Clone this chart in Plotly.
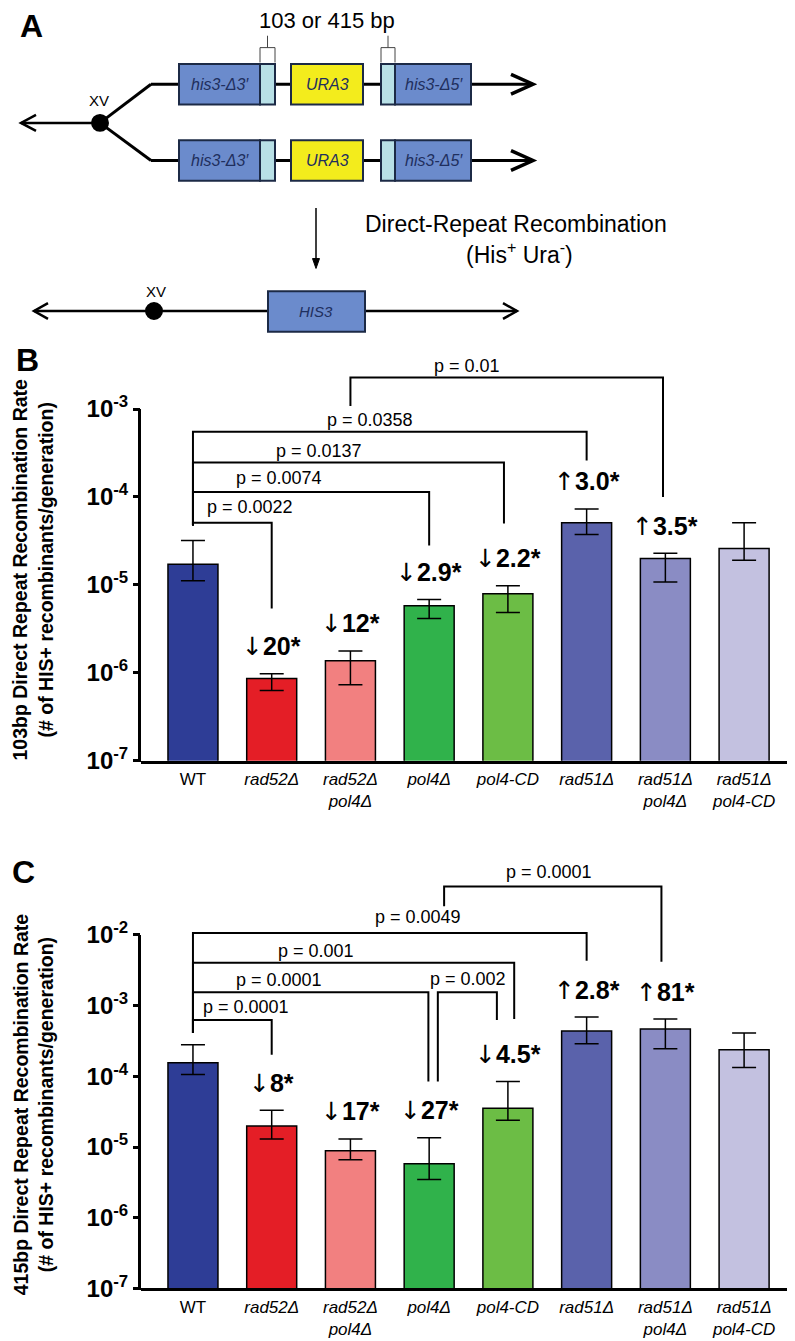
'''Direct-repeat recombination: construct (A), 103 bp (B) and 415 bp (C) rates'''

import math

import plotly.graph_objects as go

# ---- data -------------------------------------------------------------

strains = ['WT', 'rad52Δ', 'rad52Δ pol4Δ', 'pol4Δ', 'pol4-CD',
           'rad51Δ', 'rad51Δ pol4Δ', 'rad51Δ pol4-CD']
tick_labels = ['WT', '<i>rad52Δ</i>', '<i>rad52Δ<br>pol4Δ</i>', '<i>pol4Δ</i>',
               '<i>pol4-CD</i>', '<i>rad51Δ</i>', '<i>rad51Δ<br>pol4Δ</i>',
               '<i>rad51Δ<br>pol4-CD</i>']
bar_colors = ['#2e3d96', '#e41e26', '#f28080', '#30b24b',
              '#6cbd45', '#5a62ab', '#8a8cc4', '#c3c1e0']

# 103 bp repeats: rate and upper/lower bounds of the error bar
rate_103 = [1.72e-5, 8.6e-7, 1.37e-6, 5.8e-6, 7.9e-6, 5.1e-5, 2.0e-5, 2.6e-5]
upper_103 = [3.2e-5, 9.75e-7, 1.77e-6, 6.8e-6, 9.75e-6, 7.3e-5, 2.29e-5, 5.1e-5]
lower_103 = [1.11e-5, 6.3e-7, 7.3e-7, 4.15e-6, 4.85e-6, 3.74e-5, 1.08e-5, 1.91e-5]
fold_103 = ['', '↓20*', '↓12*', '↓2.9*', '↓2.2*', '↑3.0*', '↑3.5*', '']

# 415 bp repeats
rate_415 = [1.56e-4, 1.98e-5, 8.85e-6, 5.8e-6, 3.54e-5, 4.37e-4, 4.67e-4, 2.37e-4]
upper_415 = [2.79e-4, 3.32e-5, 1.30e-5, 1.35e-5, 8.45e-5, 6.9e-4, 6.45e-4, 4.1e-4]
lower_415 = [1.06e-4, 1.30e-5, 6.6e-6, 3.47e-6, 2.4e-5, 2.88e-4, 2.45e-4, 1.33e-4]
fold_415 = ['', '↓8*', '↓17*', '↓27*', '↓4.5*', '↑2.8*', '↑81*', '']

decade_ticks = [1e-7, 1e-6, 1e-5, 1e-4, 1e-3, 1e-2]
decade_labels = ['10<sup>-7</sup>', '10<sup>-6</sup>', '10<sup>-5</sup>',
                 '10<sup>-4</sup>', '10<sup>-3</sup>', '10<sup>-2</sup>']

p_values_103 = ['p = 0.0022', 'p = 0.0074', 'p = 0.0137', 'p = 0.0358', 'p = 0.01']
p_values_415 = ['p = 0.0001', 'p = 0.0001', 'p = 0.001', 'p = 0.0049',
                'p = 0.002', 'p = 0.0001']

# ---- layout constants -----------------------------------------------

W, H = 795, 1341
FONT = 'Liberation Sans, Arial, sans-serif'
NARROW = 'Liberation Sans Narrow, Arial Narrow, Liberation Sans, sans-serif'
ARROW_FONT = 'DejaVu Sans'

X_DOM = [133 / W, 792 / W]
X_RANGE = [-0.66, 7.71]
BAR_WIDTH = 0.635

# log ranges are extended above the top tick so the brackets fit
B_RANGE, B_BOTTOM, B_DECADE = [-7, -2.4], 760, 88.75
C_RANGE, C_BOTTOM, C_DECADE = [-7, -0.9], 1293, 71.4


def domain(rng, bottom, decade):
    top = bottom - (rng[1] - rng[0]) * decade
    return [1 - bottom / H, 1 - top / H]


B_DOM = domain(B_RANGE, B_BOTTOM, B_DECADE)
C_DOM = domain(C_RANGE, C_BOTTOM, C_DECADE)
A_DOM = [1 - 340 / H, 1]

# brackets: (left x, right x, bar height, left end, right end, label x, label y)
# heights in log10 units of the panel's axis
brackets_103 = [
    (0, 1, -4.292, -4.326, -5.27, 0.72, -4.112),
    (0, 3, -3.944, -4.326, -4.551, 1.09, -3.787),
    (0, 3.95, -3.607, -4.326, -4.303, 1.60, -3.472),
    (0, 5, -3.258, -4.326, -3.584, 2.25, -3.124),
    (2.0, 5.97, -2.640, -2.966, -4.0, 3.48, -2.506),
]
brackets_415 = [
    (0, 1, -3.204, -3.387, -3.695, 0.67, -3.022),
    (0, 2.99, -2.812, -3.387, -4.073, 1.09, -2.644),
    (0, 4.08, -2.392, -3.387, -3.190, 1.56, -2.224),
    (0, 5, -1.972, -3.387, -2.364, 2.86, -1.748),
    (3.11, 3.86, -2.812, -4.073, -3.204, 3.49, -2.630),
    (3.19, 5.95, -1.314, -1.594, -2.378, 4.52, -1.104),
]

fig = go.Figure()
shapes = []
annotations = []


def paper(px, py):
    return px / W, 1 - py / H


def log_to_paper(v, dom, rng):
    return dom[0] + (v - rng[0]) / (rng[1] - rng[0]) * (dom[1] - dom[0])


def fold_text(txt):
    # the arrow glyph comes from a font where it is as tall as the digits
    return ('<span style="font-family:%s;font-weight:normal">%s</span><b>%s</b>'
            % (ARROW_FONT, txt[0], txt[1:]))


def add_panel(xa, ya, rates, upper, lower, folds, brackets, p_labels, dom, rng):
    '''Bars with error bars, fold-change labels and significance brackets'''
    xs = list(range(len(strains)))
    fig.add_trace(go.Bar(
        x=xs, y=rates, width=BAR_WIDTH, name='',
        marker=dict(color=bar_colors, line=dict(color='black', width=1.5)),
        error_y=dict(type='data', symmetric=False,
                     array=[u - r for u, r in zip(upper, rates)],
                     arrayminus=[r - l for r, l in zip(rates, lower)],
                     color='black', thickness=1.5, width=12),
        hovertext=strains, xaxis=xa, yaxis=ya))

    # fold change above each error bar
    for i, txt in enumerate(folds):
        if not txt:
            continue
        annotations.append(dict(
            x=i, y=math.log10(upper[i]), xref=xa, yref=ya, yshift=27,
            xanchor='center', yanchor='middle',
            text=fold_text(txt), showarrow=False,
            font=dict(family=FONT, size=25, color='black')))

    for (xl, xr, yb, yle, yre, lx, ly), lab in zip(brackets, p_labels):
        fig.add_trace(go.Scatter(
            x=[xl, xl, xr, xr], y=[10 ** yle, 10 ** yb, 10 ** yb, 10 ** yre],
            mode='lines', line=dict(color='black', width=2),
            hoverinfo='skip', xaxis=xa, yaxis=ya))
        annotations.append(dict(
            x=lx, y=ly, xref=xa, yref=ya, text=lab,
            xanchor='center', yanchor='middle',
            showarrow=False, font=dict(family=FONT, size=18, color='black')))

    # y axis line only spans the tick range (10^-7 .. top tick)
    top_tick = -3 if rng[1] < -2 else -2
    shapes.append(dict(
        type='line', xref='paper', yref='paper',
        x0=X_DOM[0] - 1.5 / W, x1=X_DOM[0] - 1.5 / W,
        y0=log_to_paper(-7, dom, rng) - 1.5 / H,
        y1=log_to_paper(top_tick, dom, rng),
        line=dict(color='black', width=3)))


add_panel('x', 'y', rate_103, upper_103, lower_103, fold_103,
          brackets_103, p_values_103, B_DOM, B_RANGE)
add_panel('x2', 'y2', rate_415, upper_415, lower_415, fold_415,
          brackets_415, p_values_415, C_DOM, C_RANGE)

# ---- panel A: the reporter construct -------------------------------

BLUE = '#6b8bcc'
REPEAT = '#b8e0e6'
YELLOW = '#f3ec1c'
EDGE = '#1c2a46'
BOX_TEXT = '#1f2f5e'


def a_line(x0, y0, x1, y1, width=2.5, color='black'):
    shapes.append(dict(type='line', xref='x3', yref='y3', x0=x0, y0=y0,
                       x1=x1, y1=y1, line=dict(color=color, width=width)))


def a_path(path, width=2.5, color='black', fill=None):
    shp = dict(type='path', xref='x3', yref='y3', path=path,
               line=dict(color=color, width=width))
    if fill:
        shp['fillcolor'] = fill
    shapes.append(shp)


def a_rect(x0, x1, y0, y1, fill):
    shapes.append(dict(type='rect', xref='x3', yref='y3', x0=x0, x1=x1,
                       y0=y0, y1=y1, fillcolor=fill,
                       line=dict(color=EDGE, width=2)))


def a_text(x, y, text, size, italic=False, color='black'):
    if italic:
        text = '<i>' + text + '</i>'
    annotations.append(dict(x=x, y=y, xref='x3', yref='y3', text=text,
                            xanchor='center', yanchor='middle',
                            showarrow=False,
                            font=dict(family=FONT, size=size, color=color)))


# two copies of the locus, branching from chromosome XV
for yc in (77, 154):
    a_line(143, yc, 525, yc, width=3)
    a_path('M 92 116 L 143 %d' % yc, width=3)
    a_path('M 503 %d L 525 %d L 503 %d' % (yc - 10, yc, yc + 10), width=3.5)
    a_rect(171, 252, yc - 20.5, yc + 20.5, BLUE)
    a_rect(252, 267, yc - 20.5, yc + 20.5, REPEAT)
    a_rect(283, 355, yc - 20.5, yc + 20.5, YELLOW)
    a_rect(373, 387, yc - 20.5, yc + 20.5, REPEAT)
    a_rect(387, 463, yc - 20.5, yc + 20.5, BLUE)
    a_text(212, yc, 'his3-Δ3′', 16, italic=True, color=BOX_TEXT)
    a_text(319, yc, 'URA3', 16, italic=True, color=BOX_TEXT)
    a_text(426, yc, 'his3-Δ5′', 16, italic=True, color=BOX_TEXT)

a_line(13, 116, 92, 116, width=2.5)
a_path('M 28 108 L 13 116 L 28 124', width=2.5)
shapes.append(dict(type='circle', xref='x3', yref='y3', x0=84, x1=100,
                   y0=108, y1=124, fillcolor='black', line=dict(color='black')))
a_text(91, 93, 'XV', 15)

# repeat brackets
for xl, xr in ((252, 267), (373, 387)):
    xm = (xl + xr) / 2
    a_path('M %g 55 L %g 40 L %g 40 L %g 55' % (xl, xl, xr, xr),
           width=1, color='#444444')
    a_line(xm, 40, xm, 28, width=1, color='#444444')
a_text(319, 13, '103 or 415 bp', 22)

# recombination arrow
a_line(308, 202, 308, 256, width=1.5)
a_path('M 304.5 253 L 308 263 L 311.5 253 Z', width=1, fill='black')
a_text(508, 218, 'Direct-Repeat Recombination', 23)
a_text(511, 247, '(His<sup>+</sup> Ura<sup>-</sup>)', 23)

# product
a_line(26, 306, 509, 306, width=2.5)
a_path('M 40 298 L 26 306 L 40 314', width=2.5)
a_path('M 495 298 L 509 306 L 495 314', width=2.5)
shapes.append(dict(type='circle', xref='x3', yref='y3', x0=138, x1=154,
                   y0=298, y1=314, fillcolor='black', line=dict(color='black')))
a_text(148, 286, 'XV', 15)
a_rect(260, 357, 286, 327, BLUE)
a_text(308, 306, 'HIS3', 15, italic=True, color=BOX_TEXT)

# ---- panel letters and axis titles ----------------------------------

for letter, (px, py) in (('A', (23, 18)), ('B', (19, 355)), ('C', (15, 872))):
    x, y = paper(px, py)
    annotations.append(dict(x=x, y=y, xref='paper', yref='paper',
                            xanchor='center', yanchor='middle',
                            text='<b>' + letter + '</b>', showarrow=False,
                            font=dict(family=FONT, size=32, color='black')))

for bp, py in (('103bp', 567), ('415bp', 1107)):
    x, y = paper(25, py)
    annotations.append(dict(
        x=x, y=y, xref='paper', yref='paper', textangle=-90, showarrow=False,
        xanchor='center', yanchor='middle',
        text='<b>' + bp + ' Direct Repeat Recombination Rate<br>'
             '(# of HIS+ recombinants/generation)</b>',
        font=dict(family=FONT, size=19.5, color='black')))

# ---- axes -------------------------------------------------------------


def x_axis(anchor):
    return dict(domain=X_DOM, range=X_RANGE, anchor=anchor,
                showline=True, linewidth=3, linecolor='black',
                tickmode='array', tickvals=list(range(len(strains))),
                ticktext=tick_labels, ticks='', ticklabelstandoff=1,
                tickfont=dict(family=NARROW, size=17, color='black'),
                showgrid=False, zeroline=False, fixedrange=True)


def y_axis(anchor, dom, rng, n_ticks):
    return dict(domain=dom, range=rng, type='log', anchor=anchor,
                showline=False, ticks='outside', ticklen=7, tickwidth=2.5,
                tickcolor='black', tickmode='array',
                tickvals=decade_ticks[:n_ticks],
                ticktext=['<b>' + t + '</b>' for t in decade_labels[:n_ticks]],
                tickfont=dict(family=FONT, size=24, color='black'),
                showgrid=False, zeroline=False, fixedrange=True)


fig.update_layout(
    width=W, height=H,
    margin=dict(l=0, r=0, t=0, b=0),
    paper_bgcolor='white', plot_bgcolor='white',
    showlegend=False,
    xaxis=x_axis('y'),
    yaxis=y_axis('x', B_DOM, B_RANGE, 5),
    xaxis2=x_axis('y2'),
    yaxis2=y_axis('x2', C_DOM, C_RANGE, 6),
    xaxis3=dict(domain=[0, 1], range=[0, W], anchor='y3', visible=False,
                fixedrange=True),
    yaxis3=dict(domain=A_DOM, range=[340, 0], anchor='x3', visible=False,
                fixedrange=True),
    shapes=shapes,
    annotations=annotations,
)

fig.write_html('out.html')
